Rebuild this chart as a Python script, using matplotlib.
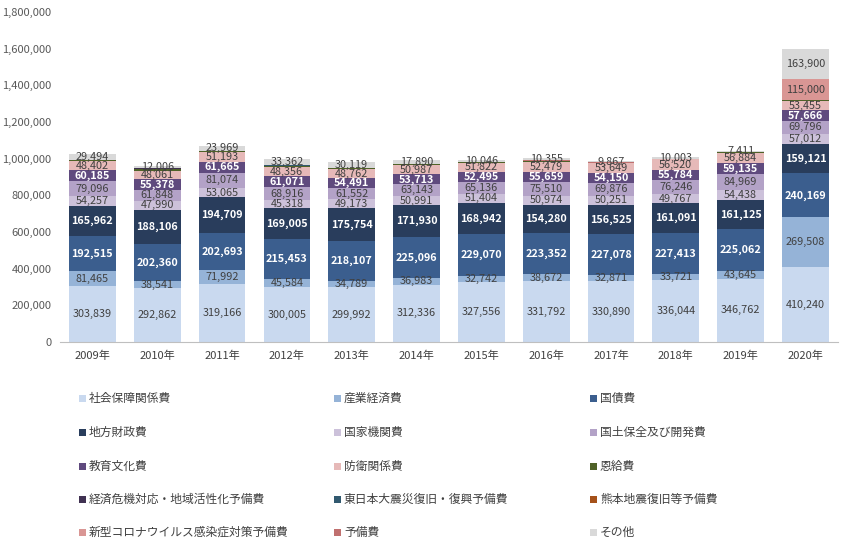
import matplotlib
matplotlib.use("Agg")
import matplotlib.pyplot as plt
from matplotlib.patches import Rectangle
from matplotlib.ticker import FuncFormatter
import numpy as np

plt.rcParams['font.family'] = ['Noto Sans CJK JP', 'DejaVu Sans']

years = ["2009年", "2010年", "2011年", "2012年", "2013年", "2014年", "2015年",
         "2016年", "2017年", "2018年", "2019年", "2020年"]

series_names = ["社会保障関係費", "産業経済費", "国債費",
                "地方財政費", "国家機関費", "国土保全及び開発費",
                "教育文化費", "防衛関係費", "恩給費",
                "経済危機対応・地域活性化予備費", "東日本大震災復旧・復興予備費", "熊本地震復旧等予備費",
                "新型コロナウイルス感染症対策予備費", "予備費", "その他"]

shakai   = [303839, 292862, 319166, 300005, 299992, 312336, 327556, 331792, 330890, 336044, 346762, 410240]
sangyo   = [81465, 38541, 71992, 45584, 34789, 36983, 32742, 38672, 32871, 33721, 43645, 269508]
kokusai  = [192515, 202360, 202693, 215453, 218107, 225096, 229070, 223352, 227078, 227413, 225062, 240169]
chiho    = [165962, 188106, 194709, 169005, 175754, 171930, 168942, 154280, 156525, 161091, 161125, 159121]
kokka    = [54257, 47990, 53065, 45318, 49173, 50991, 51404, 50974, 50251, 49767, 54438, 57012]
kokudo   = [79096, 61848, 81074, 68916, 61552, 63143, 65136, 75510, 69876, 76246, 84969, 69796]
kyoiku   = [60185, 55378, 61665, 61071, 54491, 53713, 52495, 55659, 54150, 55784, 59135, 57666]
boei     = [48402, 48061, 51193, 48356, 48762, 50987, 51822, 52479, 53649, 56520, 56884, 53455]
onkyu    = [9000, 7000, 6000, 5500, 5000, 4500, 4000, 3500, 3000, 2500, 2200, 1800]
keizai   = [0, 7000, 0, 0, 0, 0, 0, 0, 0, 0, 0, 0]
higashi  = [0, 0, 0, 6000, 0, 0, 0, 0, 0, 0, 0, 0]
kumamoto = [0, 0, 0, 0, 0, 0, 0, 4000, 0, 0, 0, 0]
corona   = [0, 0, 0, 0, 0, 0, 0, 0, 0, 0, 0, 115000]
yobi     = [0, 0, 3000, 2500, 3000, 3000, 1500, 1500, 1500, 1500, 3000, 2500]
sonota   = [29494, 12006, 23969, 33362, 30119, 17890, 10046, 10355, 9867, 10003, 7411, 163900]

all_series = [shakai, sangyo, kokusai, chiho, kokka, kokudo, kyoiku, boei, onkyu,
              keizai, higashi, kumamoto, corona, yobi, sonota]
colors = ["#c9d9ef", "#95b3d7", "#3b5e8e", "#293d5c", "#ccc1da", "#b3a2c7",
          "#5f4a7e", "#e6b9b8", "#4f6228", "#403152", "#31596f", "#a5511a",
          "#d99694", "#c0706f", "#d9d9d9"]
labeled = [True, True, True, True, True, True, True, True, False,
           False, False, False, True, False, True]
white_lbl = {2, 3, 6}

fig = plt.figure(figsize=(8.41, 5.59), dpi=100)
ax = fig.add_axes([0.0713, 0.388, 0.925, 0.5905])

x = np.arange(len(years))
bottom = np.zeros(len(years))
for i, (vals, c) in enumerate(zip(all_series, colors)):
    v = np.array(vals, dtype=float)
    ax.bar(x, v, bottom=bottom, width=0.72, color=c, linewidth=0)
    if labeled[i]:
        for j in range(len(years)):
            if v[j] > 0:
                if i in white_lbl:
                    ax.text(x[j], bottom[j] + v[j] / 2, f"{int(v[j]):,}", ha="center", va="center",
                            fontsize=7.8, color="white", fontweight="bold")
                else:
                    ax.text(x[j], bottom[j] + v[j] / 2, f"{int(v[j]):,}", ha="center", va="center",
                            fontsize=7.8, color="#404040")
    bottom += v

ax.set_xlim(-0.5, len(years) - 0.5)
ax.set_ylim(0, 1800000)
ax.set_yticks(np.arange(0, 1800001, 200000))
ax.yaxis.set_major_formatter(FuncFormatter(lambda v, p: f"{int(v):,}"))
ax.set_xticks(x)
ax.set_xticklabels(years)
ax.tick_params(axis="y", length=0, labelsize=8, labelcolor="#595959", pad=6)
ax.tick_params(axis="x", length=0, labelsize=8, labelcolor="#404040", pad=6)
for s in ["top", "right", "left"]:
    ax.spines[s].set_visible(False)
ax.spines["bottom"].set_color("#bfbfbf")
ax.spines["bottom"].set_linewidth(0.8)

# legend laid out in 3 columns, row-major
W, H = 841, 559
col_x = [82, 337, 593]
row_y = [398, 432, 466, 499, 532]
for i, (name, c) in enumerate(zip(series_names, colors)):
    r, cidx = divmod(i, 3)
    px, py = col_x[cidx], row_y[r]
    fig.patches.append(Rectangle(((px - 3.5) / W, 1 - (py + 3.5) / H), 7 / W, 7 / H,
                                 transform=fig.transFigure, facecolor=c, edgecolor="none"))
    fig.text((px + 7) / W, 1 - py / H, name, ha="left", va="center", fontsize=8.5, color="#404040")

fig.savefig("out.png", dpi=100)
